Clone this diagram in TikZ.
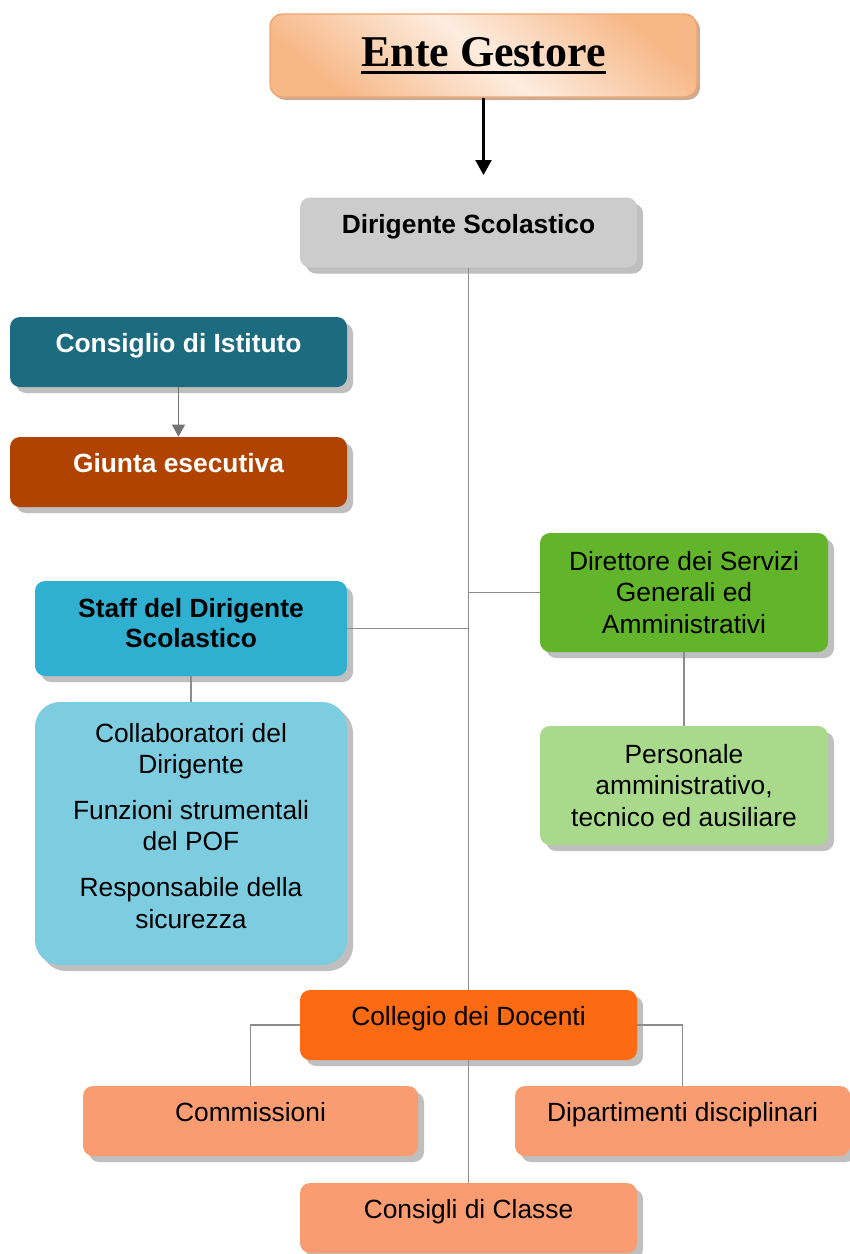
\documentclass[tikz,border=0pt]{standalone}
\usepackage{fontspec}
\setmainfont{Liberation Sans}
\newfontfamily\entefont{Liberation Serif}
\newcommand{\enteul}[1]{\setbox0\hbox{#1}\rlap{\rule[-4.2pt]{\wd0}{1.6pt}}\box0}
\newcommand{\lowpad}[1]{\rule[-#1]{0pt}{#1}}
\usetikzlibrary{arrows.meta}
\usetikzlibrary{shadows}
\usetikzlibrary{positioning}

\definecolor{enteorange}{HTML}{F7B888}
\definecolor{entelight}{HTML}{FDEDE0}
\definecolor{enteedge}{HTML}{EFA672}
\definecolor{dirgray}{HTML}{CCCCCC}
\definecolor{consteal}{HTML}{1D6B7E}
\definecolor{giuntared}{HTML}{B04300}
\definecolor{staffblue}{HTML}{30B0D0}
\definecolor{collblue}{HTML}{7ECCE0}
\definecolor{dsgagreen}{HTML}{62B52A}
\definecolor{persgreen}{HTML}{A9DA8B}
\definecolor{collorange}{HTML}{FC6A14}
\definecolor{salmon}{HTML}{F99C72}

\begin{document}
\begin{tikzpicture}[
    box/.style={rounded corners=0.2cm, minimum width=6.74cm, minimum height=1.4cm,
      align=center, inner sep=2pt, font=\fontsize{15}{18}\selectfont,
      drop shadow={shadow xshift=0.12cm, shadow yshift=-0.12cm, fill=black!25, opacity=1}},
    boldtext/.style={font=\fontsize{15}{17}\selectfont\bfseries},
    oneline/.style={text height=0.75em, text depth=0.65em},
    link/.style={draw=black!45, line width=0.6pt},
  ]
  \useasboundingbox (0,0) rectangle (17,-25.08);

  % top
  \node[rounded corners=0.25cm, minimum width=8.54cm, minimum height=1.66cm,
    draw=enteedge, line width=0.8pt, top color=enteorange, bottom color=enteorange,
    middle color=entelight, shading angle=-40,
    drop shadow={shadow xshift=0.06cm, shadow yshift=-0.06cm, fill=enteedge!70!black, opacity=0.6}]
    (ente) at (9.67,-1.11) {\entefont\bfseries\fontsize{25}{30}\selectfont\enteul{Ente Gestore}};
  \coordinate (tip) at (9.67,-3.5);
  \draw[-{Triangle[width=0.32cm,length=0.3cm]}, line width=1.4pt] (ente) -- (tip);

  \node[box, oneline, boldtext, fill=dirgray] (dir) at (9.37,-4.65) {Dirigente Scolastico};

  % left column
  \node[box, oneline, boldtext, fill=consteal, text=white] (cons) at (3.57,-7.04) {Consiglio di Istituto};
  \node[box, oneline, boldtext, fill=giuntared, text=white] (giunta) at (3.57,-9.44) {Giunta esecutiva};
  \node[box, boldtext, fill=staffblue, minimum width=6.24cm, minimum height=1.9cm]
    (staff) at (3.82,-12.57) {Staff del Dirigente\\Scolastico\lowpad{6pt}};
  \node[box, fill=collblue, rounded corners=0.5cm, minimum width=6.24cm, minimum height=5.26cm]
    (collab) at (3.82,-16.67) {Collaboratori del\\Dirigente\\[8pt]Funzioni strumentali\\del POF\\[8pt]Responsabile della\\sicurezza\lowpad{9pt}};

  % right column
  \node[box, fill=dsgagreen, minimum width=5.76cm, minimum height=2.38cm]
    (dsga) at (13.68,-11.85) {Direttore dei Servizi\\Generali ed\\Amministrativi};
  \node[box, fill=persgreen, minimum width=5.76cm, minimum height=2.38cm]
    (pers) at (13.68,-15.71) {Personale\\amministrativo,\\tecnico ed ausiliare};

  % bottom
  \node[box, oneline, fill=collorange] (colleg) at (9.37,-20.50) {Collegio dei Docenti};
  \node[box, oneline, fill=salmon, minimum width=6.70cm] (comm) at (5.01,-22.42) {Commissioni};
  \node[box, oneline, fill=salmon, minimum width=6.70cm] (dip) at (13.65,-22.42) {Dipartimenti disciplinari};
  \node[box, oneline, fill=salmon] (classe) at (9.37,-24.36) {Consigli di Classe};

  \draw[link] (dir.south) -- (colleg.north);
  \draw[link] (staff.east) -- (staff.east -| dir.south);
  \draw[link] (dsga.west) -- (dsga.west -| dir.south);
  \draw[link] (staff) -- (collab);
  \draw[link] (dsga) -- (pers);
  \draw[link, draw=black!55, fill=black!55, -{Triangle[width=0.26cm,length=0.24cm]}] (cons) -- (giunta);
  \draw[link] (colleg.west) -| (comm.north);
  \draw[link] (colleg.east) -| (dip.north);
  \draw[link] (colleg) -- (classe);

\end{tikzpicture}
\end{document}
